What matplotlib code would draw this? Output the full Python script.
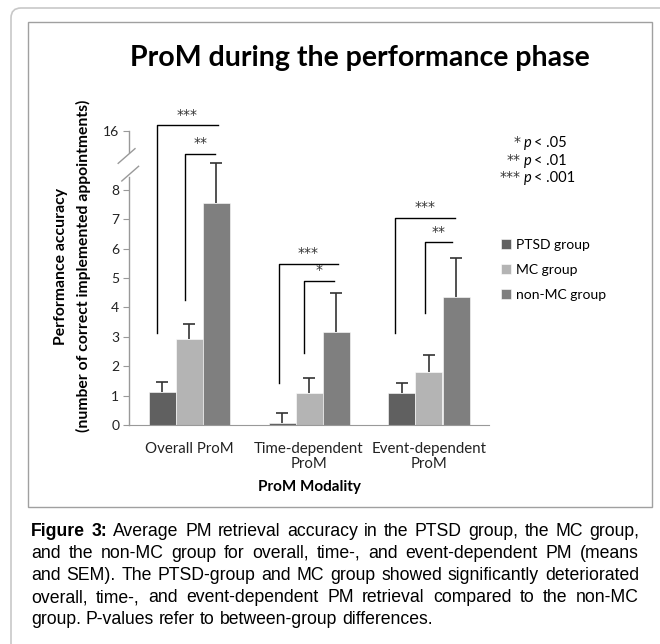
import matplotlib
matplotlib.use("Agg")
import matplotlib.pyplot as plt
import numpy as np
from matplotlib.patches import FancyBboxPatch, Rectangle

# Data (means and SEM)
categories = ["Overall ProM", "Time-dependent\nProM", "Event-dependent\nProM"]
groups = ["PTSD group", "MC group", "non-MC group"]
means = {
    "PTSD group": [1.13, 0.07, 1.08],
    "MC group": [2.92, 1.08, 1.80],
    "non-MC group": [7.55, 3.17, 4.36],
}
sems = {
    "PTSD group": [0.34, 0.33, 0.34],
    "MC group": [0.51, 0.52, 0.58],
    "non-MC group": [1.35, 1.31, 1.31],
}
colors = ["#606060", "#b4b4b4", "#7f7f7f"]

# significance brackets: (category, x_left, x_right, y_start, y_top, label)
brackets = [
    (0, -0.27, 0.24, 3.13, 10.2, "***"),
    (0, -0.03, 0.22, 4.25, 9.22, "**"),
    (1, -0.25, 0.24, 1.43, 5.48, "***"),
    (1, -0.04, 0.21, 2.45, 4.90, "*"),
    (2, -0.28, 0.22, 3.13, 7.04, "***"),
    (2, -0.03, 0.19, 3.81, 6.22, "**"),
]

caption_lines = [
    "Figure 3: Average PM retrieval accuracy in the PTSD group, the MC group,",
    "and the non-MC group for overall, time-, and event-dependent PM (means",
    "and SEM). The PTSD-group and MC group showed significantly deteriorated",
    "overall, time-, and event-dependent PM retrieval compared to the non-MC",
    "group. P-values refer to between-group differences.",
]

W, H = 660, 644
chart_font = ["Lato", "DejaVu Sans"]
cap_font = ["Liberation Sans", "DejaVu Sans"]
star_font = ["DejaVu Sans"]
plt.rcParams["font.family"] = chart_font

fig = plt.figure(figsize=(W / 100, H / 100), dpi=100)

# background overlay in pixel coordinates (frames + caption)
bg = fig.add_axes([0, 0, 1, 1], zorder=0)
bg.set_xlim(0, W)
bg.set_ylim(H, 0)
bg.axis("off")
bg.add_patch(FancyBboxPatch((11, 8), 700, 700, boxstyle="round,pad=0,rounding_size=10",
                            fc="white", ec="#c8c8c8", lw=1.2))
bg.add_patch(Rectangle((28, 22), 624, 485, fc="white", ec="#a0a0a0", lw=1.0))

# main chart axes
y0_px, unit_px = 425, 29.4
top_val = 10.8
ax = fig.add_axes([129 / W, (H - y0_px) / H, 360 / W, top_val * unit_px / H], zorder=1)
ax.patch.set_alpha(0)

x = np.arange(len(categories))
width = 0.225
bars = []
for i, g in enumerate(groups):
    pos = x + (i - 1) * width
    b = ax.bar(pos, means[g], width, color=colors[i], edgecolor="white", linewidth=0.4,
               label=g, zorder=2)
    eb = ax.errorbar(pos, means[g], yerr=[np.zeros(len(x)), sems[g]], fmt="none",
                     ecolor="#333333", elinewidth=1.2, capsize=4, capthick=1.2, zorder=3)
    eb[1][0].set_visible(False)  # no cap at the bar top
    bars.append(b)

ax.set_xlim(-0.5, 2.5)
ax.set_ylim(0, top_val)
ax.set_xticks(x)
ax.set_xticklabels(categories, fontsize=10.8, color="#222222", linespacing=1.1)
ax.tick_params(axis="x", length=0, pad=12)
ax.set_yticks(list(range(9)) + [10])
ax.set_yticklabels([str(v) for v in range(9)] + ["16"], fontsize=10, color="#222222")
ax.tick_params(axis="y", length=4, color="#999999", direction="out", pad=3)
for s in ["top", "right", "left"]:
    ax.spines[s].set_visible(False)
ax.spines["bottom"].set_color("#999999")

# broken left spine
ax.plot([-0.5, -0.5], [0, 8.45], color="#999999", lw=1.0, clip_on=False, zorder=1)
ax.plot([-0.5, -0.5], [9.3, 10.0], color="#999999", lw=1.0, clip_on=False, zorder=1)
ax.plot([-0.56, -0.42], [8.3, 8.8], color="#999999", lw=1.0, clip_on=False)
ax.plot([-0.59, -0.45], [8.9, 9.4], color="#999999", lw=1.0, clip_on=False)

# significance brackets
for cat, xl, xr, ys, yt, lab in brackets:
    ax.plot([cat + xl, cat + xl, cat + xr], [ys, yt, yt], color="black", lw=1.0,
            clip_on=False, zorder=4)
    ax.text(cat + (xl + xr) / 2, yt + 0.12, lab, ha="center", va="bottom", fontsize=10,
            family=star_font, color="#333333", clip_on=False)

ax.set_ylabel("Performance accuracy\n(number of correct implemented appointments)",
              fontsize=11.3, fontweight="bold", linespacing=1.6, labelpad=9)
ax.set_xlabel("ProM Modality", fontsize=11, fontweight="bold", labelpad=7)

fig.text(360 / W, (H - 58) / H, "ProM during the performance phase", ha="center",
         va="center", fontsize=20.5, fontweight="bold")

# legend
ax.legend(handles=bars, loc="center left", bbox_to_anchor=(501 / W, (H - 270) / H),
          bbox_transform=fig.transFigure, frameon=False, fontsize=10,
          handlelength=0.7, handleheight=0.7, handletextpad=0.35,
          labelspacing=0.95, borderpad=0, borderaxespad=0)

# p-value key
for row, (stars, rest) in enumerate([("*", "< .05"), ("**", "< .01"), ("***", "< .001")]):
    yy = 143 + row * 17.5
    bg.text(521, yy - 1, stars, ha="right", va="center", fontsize=10, family=star_font,
            color="#333333")
    bg.text(524, yy, "p", ha="left", va="center", fontsize=10.5, style="italic")
    bg.text(534, yy, rest, ha="left", va="center", fontsize=10.5)

# justified caption
fig.canvas.draw()
renderer = fig.canvas.get_renderer()
x_left, x_right = 31, 639


def word_width(w, size, bold):
    t = bg.text(0, 0, w, fontsize=size, family=cap_font,
                fontweight="bold" if bold else "normal")
    wd = t.get_window_extent(renderer).width
    t.remove()
    return wd


# pick a font size so the widest line just fills the column
probe = 10
widest = max(word_width(line, probe, False) for line in caption_lines[:-1])
cap_size = probe * (x_right - x_left - 8) / widest

for li, line in enumerate(caption_lines):
    yy = 531 + li * 22.2
    words = line.split(" ")
    items = []
    for wi, w in enumerate(words):
        bold = li == 0 and wi < 2
        t = bg.text(0, yy, w, ha="left", va="center", fontsize=cap_size,
                    family=cap_font, fontweight="bold" if bold else "normal", color="black")
        items.append((t, t.get_window_extent(renderer).width))
    total = sum(wd for _, wd in items)
    if li < len(caption_lines) - 1:
        gap = (x_right - x_left - total) / (len(items) - 1)
    else:
        gap = word_width("a b", cap_size, False) - word_width("ab", cap_size, False)
    cx = x_left
    for t, wd in items:
        t.set_x(cx)
        cx += wd + gap

fig.savefig("out.png", dpi=100)
